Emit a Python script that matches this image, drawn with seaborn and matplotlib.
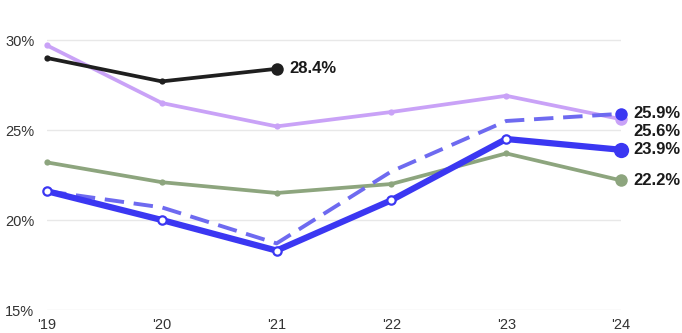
import matplotlib
matplotlib.use("Agg")
import matplotlib.pyplot as plt
import seaborn as sns
import pandas as pd

years = ["'19", "'20", "'21", "'22", "'23", "'24"]
black_vals = [29.0, 27.7, 28.4]
lavender_vals = [29.7, 26.5, 25.2, 26.0, 26.9, 25.6]
green_vals = [23.2, 22.1, 21.5, 22.0, 23.7, 22.2]
blue_vals = [21.6, 20.0, 18.3, 21.1, 24.5, 23.9]
dashed_vals = [21.6, 20.7, 18.7, 22.7, 25.5, 25.9]
y_ticks = [15, 20, 25, 30]

sns.set_theme(style="white")
plt.rcParams["font.family"] = ["Liberation Sans", "DejaVu Sans"]

W, H = 682, 333
fig = plt.figure(figsize=(W / 100, H / 100), dpi=100)
# plot area: x from 47 to 621 px, y from 13 to 310 px (measured from the top)
ax = fig.add_axes([47 / W, (H - 310) / H, (621 - 47) / W, (310 - 13) / H])

BLACK = "#1f1f1f"
LAV = "#c9a2f7"
GREEN = "#8da57e"
BLUE = "#3b37f2"
DASH = "#6e6af0"

def frame(vals):
    return pd.DataFrame({"x": range(len(vals)), "y": vals})

for v in y_ticks:
    ax.axhline(v, color="#e8e8e8", lw=1.0, zorder=0)

# thin series with small dots
for vals, col in [(lavender_vals, LAV), (green_vals, GREEN), (black_vals, BLACK)]:
    d = frame(vals)
    sns.lineplot(data=d, x="x", y="y", ax=ax, color=col, lw=2.7, marker="o",
                 markersize=4.5, markeredgewidth=0, clip_on=False)
    ax.plot(d["x"].iloc[-1], d["y"].iloc[-1], "o", color=col, ms=9, mew=0, clip_on=False, zorder=5)

# dashed series
d = frame(dashed_vals)
sns.lineplot(data=d, x="x", y="y", ax=ax, color=DASH, lw=2.8, clip_on=False)
ax.lines[-1].set_dashes([5, 2.5])
ax.plot(d["x"].iloc[-1], d["y"].iloc[-1], "o", color=BLUE, ms=9, mew=0, clip_on=False, zorder=6)

# bold blue series with hollow markers
d = frame(blue_vals)
sns.lineplot(data=d, x="x", y="y", ax=ax, color=BLUE, lw=4.5, clip_on=False)
ax.plot(d["x"].iloc[:-1], d["y"].iloc[:-1], "o", color="white", mec=BLUE, ms=6, mew=1.6,
        clip_on=False, zorder=6)
ax.plot(d["x"].iloc[-1], d["y"].iloc[-1], "o", color=BLUE, ms=11, mew=0, clip_on=False, zorder=6)

# end labels
lab_kw = dict(fontsize=12, fontweight="bold", color="#1a1a1a", va="center", ha="left")
ax.annotate(f"{black_vals[-1]:.1f}%", (len(black_vals) - 1, black_vals[-1]),
            xytext=(9.5, 0), textcoords="offset points", **lab_kw)
ax.annotate(f"{dashed_vals[-1]:.1f}%", (5, dashed_vals[-1]), xytext=(9, 0),
            textcoords="offset points", **lab_kw)
ax.annotate(f"{lavender_vals[-1]:.1f}%", (5, lavender_vals[-1]), xytext=(9, -8.5),
            textcoords="offset points", **lab_kw)
ax.annotate(f"{blue_vals[-1]:.1f}%", (5, blue_vals[-1]), xytext=(9, 0),
            textcoords="offset points", **lab_kw)
ax.annotate(f"{green_vals[-1]:.1f}%", (5, green_vals[-1]), xytext=(9, 0),
            textcoords="offset points", **lab_kw)

ax.set_xlim(0, 5)
ax.set_ylim(15, 31.5)
ax.set_xticks(range(len(years)))
ax.set_xticklabels(years)
ax.set_yticks(y_ticks)
ax.set_yticklabels([f"{t}%" for t in y_ticks])
ax.tick_params(axis="both", length=0, labelsize=10.5, labelcolor="#333333")
ax.tick_params(axis="y", pad=9)
ax.tick_params(axis="x", pad=6)
ax.set_xlabel("")
ax.set_ylabel("")
for s in ax.spines.values():
    s.set_visible(False)
ax.set_facecolor("none")

fig.savefig("out.png", dpi=100)
